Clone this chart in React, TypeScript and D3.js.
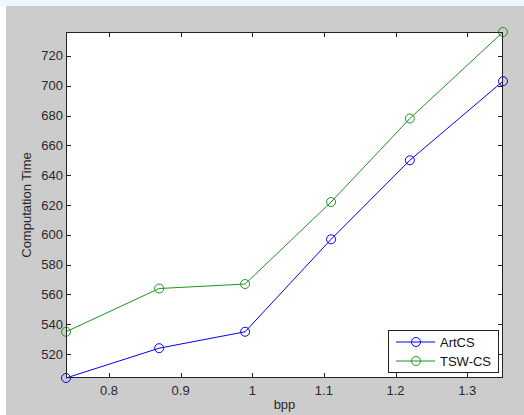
import { useEffect, useRef } from 'react';
import * as d3 from 'd3';

const bpp = [0.74, 0.87, 0.99, 1.11, 1.22, 1.35];
const artCS = [504, 524, 535, 597, 650, 703];
const tswCS = [535, 564, 567, 622, 678, 736];
const xTicks = [0.8, 0.9, 1.0, 1.1, 1.2, 1.3];
const yTicks = [520, 540, 560, 580, 600, 620, 640, 660, 680, 700, 720];
const seriesNames = ['ArtCS', 'TSW-CS'];

export default function App() {
  const svgRef = useRef<SVGSVGElement>(null);

  useEffect(() => {
    if (!svgRef.current) return;
    const svg = d3.select(svgRef.current);
    svg.selectAll('*').remove();

    const W = 524;
    const H = 415;
    const left = 66;
    const right = 503;
    const top = 32;
    const bottom = 378;

    // figure background
    svg.append('rect').attr('width', W).attr('height', H).attr('fill', '#ffffff');
    svg.append('rect').attr('x', 0).attr('y', 0).attr('width', W).attr('height', 6).attr('fill', '#eef7f9');
    svg.append('rect').attr('x', 6).attr('y', 6).attr('width', W - 6).attr('height', H - 6).attr('fill', '#cccccc');

    const x = d3.scaleLinear().domain([0.74, 1.35]).range([left, right]);
    const y = d3.scaleLinear().domain([504, 736]).range([bottom, top]);

    // axes area
    svg.append('rect')
      .attr('x', left).attr('y', top)
      .attr('width', right - left).attr('height', bottom - top)
      .attr('fill', '#ffffff');

    const tickLen = 5;
    const g = svg.append('g').attr('stroke', '#222').attr('stroke-width', 1);
    xTicks.forEach(t => {
      const px = Math.round(x(t)) + 0.5;
      g.append('line').attr('x1', px).attr('x2', px).attr('y1', bottom).attr('y2', bottom - tickLen);
      g.append('line').attr('x1', px).attr('x2', px).attr('y1', top).attr('y2', top + tickLen);
    });
    yTicks.forEach(t => {
      const py = Math.round(y(t)) + 0.5;
      g.append('line').attr('x1', left).attr('x2', left + tickLen).attr('y1', py).attr('y2', py);
      g.append('line').attr('x1', right).attr('x2', right - tickLen).attr('y1', py).attr('y2', py);
    });

    const font = 'Liberation Sans, Arial, sans-serif';
    svg.append('g')
      .selectAll('text')
      .data(xTicks)
      .enter()
      .append('text')
      .attr('x', d => x(d))
      .attr('y', bottom + 17)
      .attr('text-anchor', 'middle')
      .attr('font-family', font)
      .attr('font-size', 13)
      .attr('fill', '#2a2a2a')
      .text(d => (d === 1 ? '1' : d3.format('.1f')(d)));

    svg.append('g')
      .selectAll('text')
      .data(yTicks)
      .enter()
      .append('text')
      .attr('x', left - 3)
      .attr('y', d => y(d) + 4.5)
      .attr('text-anchor', 'end')
      .attr('font-family', font)
      .attr('font-size', 13)
      .attr('fill', '#2a2a2a')
      .text(d => d);

    svg.append('text')
      .attr('x', (left + right) / 2)
      .attr('y', 409)
      .attr('text-anchor', 'middle')
      .attr('font-family', font)
      .attr('font-size', 13)
      .attr('fill', '#2a2a2a')
      .text('bpp');

    svg.append('text')
      .attr('transform', `translate(31,${(top + bottom) / 2}) rotate(-90)`)
      .attr('text-anchor', 'middle')
      .attr('font-family', font)
      .attr('font-size', 13)
      .attr('fill', '#2a2a2a')
      .text('Computation Time');

    // series
    const colors = ['#0000ff', '#1a961a'];
    const allSeries = [artCS, tswCS];
    const line = d3.line<number>().x((d, i) => x(bpp[i])).y(d => y(d));
    allSeries.forEach((s, k) => {
      svg.append('path')
        .datum(s)
        .attr('d', line)
        .attr('fill', 'none')
        .attr('stroke', colors[k])
        .attr('stroke-width', 1);
      svg.append('g')
        .selectAll('circle')
        .data(s)
        .enter()
        .append('circle')
        .attr('cx', (d, i) => x(bpp[i]))
        .attr('cy', d => y(d))
        .attr('r', 4.5)
        .attr('fill', 'none')
        .attr('stroke', colors[k])
        .attr('stroke-width', 1);
    });

    // box
    svg.append('rect')
      .attr('x', left + 0.5).attr('y', top + 0.5)
      .attr('width', right - left - 1).attr('height', bottom - top - 1)
      .attr('fill', 'none')
      .attr('stroke', '#222');

    // legend
    const lg = svg.append('g');
    lg.append('rect')
      .attr('x', 388.5).attr('y', 330.5)
      .attr('width', 110).attr('height', 42)
      .attr('fill', '#ffffff')
      .attr('stroke', '#222');
    seriesNames.forEach((name, k) => {
      const ly = 342 + k * 19;
      lg.append('line')
        .attr('x1', 396).attr('x2', 435).attr('y1', ly).attr('y2', ly)
        .attr('stroke', colors[k]);
      lg.append('circle')
        .attr('cx', 416).attr('cy', ly).attr('r', 4.5)
        .attr('fill', 'none').attr('stroke', colors[k]);
      lg.append('text')
        .attr('x', 440).attr('y', ly + 5)
        .attr('font-family', font)
        .attr('font-size', 13)
        .attr('fill', '#111')
        .text(name);
    });
  }, []);

  return (
    <svg
      ref={svgRef}
      width={524}
      height={415}
      style={{ position: 'absolute', left: 0, top: 0 }}
    />
  );
}
